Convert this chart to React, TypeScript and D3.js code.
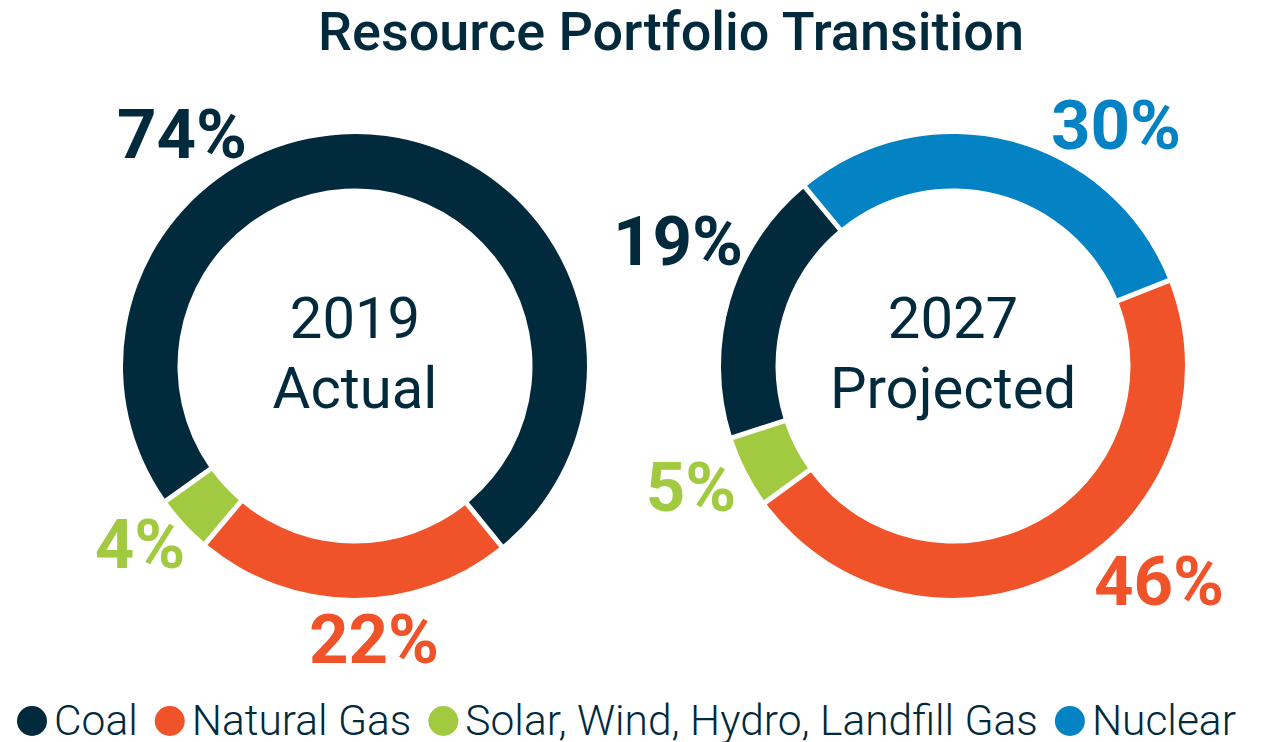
import React, { useRef, useEffect } from 'react';
import * as d3 from 'd3';

// categories in legend order
const categories = ["Coal", "Natural Gas", "Solar, Wind, Hydro, Landfill Gas", "Nuclear"];
const colors = ["#022a3d", "#f0532a", "#a1ca41", "#0382c4"];

// percent shares, same order as categories
const actual2019 = [74, 22, 4, 0];
const projected2027 = [19, 46, 5, 30];

// clockwise order the slices are drawn in
const sliceOrder = ["Coal", "Nuclear", "Natural Gas", "Solar, Wind, Hydro, Landfill Gas"];

const charts = [
    { values: actual2019, lines: ["2019", "Actual"], cx: 355, startDeg: 234.5,
      // label offsets from donut centre (manually placed, like the original)
      labels: { "Coal": [-173, -208], "Natural Gas": [19, 297], "Solar, Wind, Hydro, Landfill Gas": [-215, 202] } },
    { values: projected2027, lines: ["2027", "Projected"], cx: 953, startDeg: 252,
      labels: { "Coal": [-275, -101], "Nuclear": [163, -217], "Natural Gas": [206, 239], "Solar, Wind, Hydro, Landfill Gas": [-262, 145] } },
];

const App = () => {
    const svgRef = useRef(null);

    useEffect(() => {
        const width = 1265, height = 742;
        const cy = 366;
        const outerR = 232, innerR = 177.5;
        const textColor = "#022a3d";

        const svg = d3.select(svgRef.current);
        svg.selectAll("*").remove();
        svg.attr("width", width).attr("height", height);

        // Title
        svg.append("text")
            .attr("x", 671)
            .attr("y", 50)
            .attr("text-anchor", "middle")
            .style("font-family", "Roboto")
            .style("font-weight", 500)
            .style("font-size", "54px")
            .attr("fill", textColor)
            .text("Resource Portfolio Transition");

        const color = d3.scaleOrdinal().domain(categories).range(colors);

        const arc = d3.arc()
            .innerRadius(innerR)
            .outerRadius(outerR)
            .padAngle(5 / outerR)
            .padRadius(outerR);

        charts.forEach(chart => {
            const rows = sliceOrder.map(name => ({ name, value: chart.values[categories.indexOf(name)] }))
                .filter(d => d.value > 0);

            const start = chart.startDeg * Math.PI / 180;
            const pie = d3.pie()
                .sort(null)
                .value(d => d.value)
                .startAngle(start)
                .endAngle(start + 2 * Math.PI);

            const g = svg.append("g").attr("transform", `translate(${chart.cx},${cy})`);

            g.selectAll("path")
                .data(pie(rows))
                .enter().append("path")
                .attr("d", arc)
                .attr("fill", d => color(d.data.name));

            // percent labels
            g.selectAll("text.pct")
                .data(rows)
                .enter().append("text")
                .attr("class", "pct")
                .attr("x", d => chart.labels[d.name][0])
                .attr("y", d => chart.labels[d.name][1])
                .attr("text-anchor", "middle")
                .style("font-family", "Roboto")
                .style("font-weight", 700)
                .style("font-size", "69px")
                .attr("fill", d => color(d.name))
                .text(d => d.value + "%");

            // centre text
            g.selectAll("text.center")
                .data(chart.lines)
                .enter().append("text")
                .attr("class", "center")
                .attr("x", 0)
                .attr("y", (d, i) => -28 + i * 70)
                .attr("text-anchor", "middle")
                .style("font-family", "Roboto")
                .style("font-size", "58px")
                .attr("fill", textColor)
                .text(d => d);
        });

        // Legend, laid out by measured text widths
        const legend = svg.append("g");
        let x = 17;
        categories.forEach((name, i) => {
            const r = 15;
            legend.append("circle")
                .attr("cx", x + r)
                .attr("cy", 721)
                .attr("r", r)
                .attr("fill", colors[i]);
            const t = legend.append("text")
                .attr("x", x + 2 * r + 7)
                .attr("y", 735)
                .style("font-family", "Roboto")
                .style("font-weight", 300)
                .style("font-size", "42.5px")
                .attr("fill", textColor)
                .text(name);
            const w = t.node().getComputedTextLength();
            x = x + 2 * r + 7 + w + 17;
        });
    }, []);

    return (
        <svg ref={svgRef} style={{ position: "absolute", left: 0, top: 0, display: "block" }}></svg>
    );
};

export default App;
